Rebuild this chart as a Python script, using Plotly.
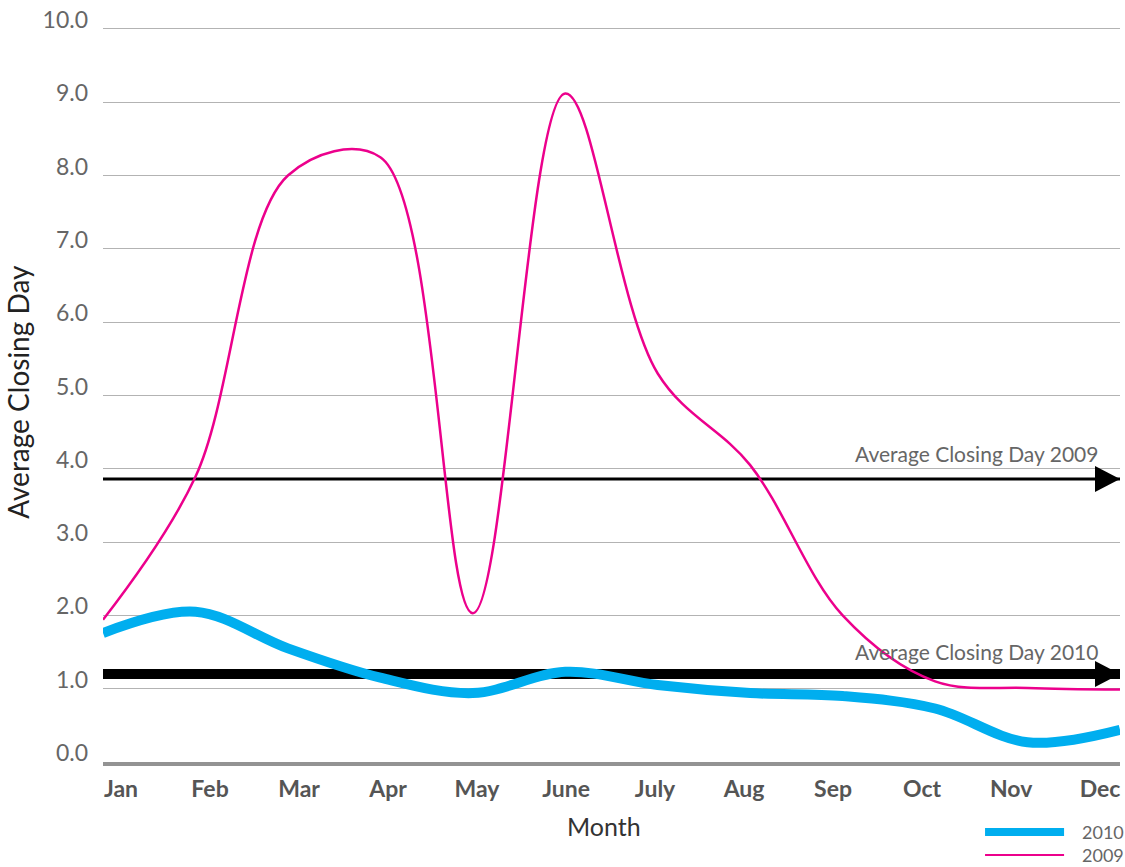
import plotly.graph_objects as go

# Monthly average closing day
months = ["Jan", "Feb", "Mar", "Apr", "May", "June", "July", "Aug", "Sep", "Oct", "Nov", "Dec"]
closing_2009 = [1.94, 3.89, 8.0, 8.25, 2.03, 9.12, 5.3, 4.05, 2.0, 1.1, 1.01, 0.99]
closing_2010 = [1.76, 2.05, 1.55, 1.15, 0.94, 1.23, 1.05, 0.94, 0.9, 0.73, 0.27, 0.44]
avg_2009 = 3.86
avg_2010 = 1.2
y_ticks = [0, 1, 2, 3, 4, 5, 6, 7, 8, 9, 10]

CYAN = "#00AEEF"
MAGENTA = "#EC008C"
FONT = "Century Gothic, Lato"

idx = list(range(len(months)))
# month labels sit on a slightly tighter pitch than the data points
label_pos = [0.195 + 0.9627 * i for i in idx]

fig = go.Figure()
fig.add_trace(go.Scatter(x=idx, y=closing_2009, mode="lines", name="2009",
                         line=dict(color=MAGENTA, width=2.5, shape="spline", smoothing=1.0)))
fig.add_trace(go.Scatter(x=idx, y=closing_2010, mode="lines", name="2010",
                         line=dict(color=CYAN, width=10, shape="spline", smoothing=1.0)))

shapes = []
annotations = []
last = idx[-1]
for val, w, label, shift in [(avg_2009, 3, "Average Closing Day 2009", 26),
                             (avg_2010, 10, "Average Closing Day 2010", 23)]:
    shapes.append(dict(type="line", xref="x", yref="y", x0=0, x1=last, y0=val, y1=val,
                       line=dict(color="black", width=w), layer="between"))
    shapes.append(dict(type="path", xref="x", yref="y", xsizemode="pixel", ysizemode="pixel",
                       xanchor=last, yanchor=val, path="M-25,-13 L0,0 L-25,13 Z",
                       fillcolor="black", line=dict(width=0), layer="between"))
    annotations.append(dict(text=label, xref="paper", yref="y", x=0.9803, y=val,
                            xanchor="right", yanchor="middle", yshift=shift, showarrow=False,
                            font=dict(family=FONT, size=21, color="#666666")))

# legend drawn beneath the plot on the right
for name, color, w, py in [("2010", CYAN, 8, -0.0951), ("2009", MAGENTA, 2, -0.1264)]:
    shapes.append(dict(type="line", xref="paper", yref="paper", x0=0.8673, x1=0.945,
                       y0=py, y1=py, line=dict(color=color, width=w)))
    annotations.append(dict(text=name, xref="paper", yref="paper", x=0.9607, y=py,
                            xanchor="left", yanchor="middle", showarrow=False,
                            font=dict(family=FONT, size=18, color="#666666")))

annotations.append(dict(text="Month", xref="paper", yref="paper", x=0.4926, y=-0.087,
                        xanchor="center", yanchor="middle", showarrow=False,
                        font=dict(family=FONT, size=25, color="#333333")))
annotations.append(dict(text="Average Closing Day", xref="paper", yref="paper", x=-0.0836, y=0.503,
                        xanchor="center", yanchor="middle", textangle=-90, showarrow=False,
                        font=dict(family=FONT, size=28, color="#222222")))

fig.update_layout(
    width=1125, height=867,
    margin=dict(l=103, r=5, t=26, b=105),
    paper_bgcolor="white", plot_bgcolor="white",
    showlegend=False,
    shapes=shapes, annotations=annotations,
    font=dict(family=FONT),
)
fig.update_xaxes(range=[0, last], tickvals=label_pos, ticktext=months,
                 showgrid=False, zeroline=False, showline=True, linecolor="#939393", linewidth=4,
                 ticks="", ticklabelstandoff=3,
                 tickfont=dict(family=FONT, size=23, color="#555555", weight="bold"))
# a little headroom keeps the 10.0 gridline inside the plot
fig.update_yaxes(range=[0, 10.04], tickvals=y_ticks, tickformat=".1f",
                 showgrid=True, gridcolor="#b3b3b3", gridwidth=1, zeroline=False, showline=False,
                 ticks="", ticklabelstandoff=14, ticklabelshift=-9,
                 tickfont=dict(family=FONT, size=23, color="#666666"))

fig.write_html("out.html")
